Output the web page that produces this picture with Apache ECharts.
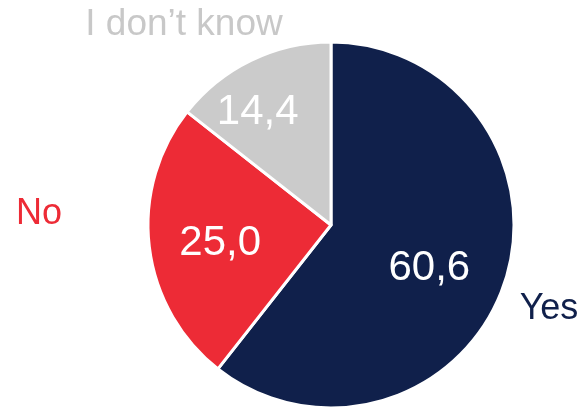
<!DOCTYPE html>
<html>
<head>
<meta charset="utf-8">
<script src="https://cdn.jsdelivr.net/npm/echarts@6/dist/echarts.min.js"></script>
<style>
  html, body { margin: 0; padding: 0; background: #fff; }
  #chart { width: 583px; height: 408px; }
</style>
</head>
<body>
<div id="chart"></div>
<script>
// Answer shares (percent)
const categories = ['Yes', 'No', 'I don\u2019t know'];
const values = [60.6, 25.0, 14.4];
const colors = ['#10204b', '#ed2b36', '#cbcbcb'];
const nameColors = ['#10204b', '#ed2b36', '#c8c8c8'];

// fine placement of the in-slice values and of the outer names
const valueOffsets = [[9, 13], [-17, 7], [-32, -28]];
const namePositions = [[549, 309], [39, 214], [184, 25]];

const fmt = v => v.toFixed(1).replace('.', ',');

const chart = echarts.init(document.getElementById('chart'), null, { renderer: 'canvas' });

const font = 'Liberation Sans, Arial, sans-serif';

chart.setOption({
  animation: false,
  series: [
    {
      type: 'pie',
      center: [331, 225],
      radius: [0, 183],
      startAngle: 90,
      clockwise: true,
      silent: true,
      itemStyle: { borderColor: '#fff', borderWidth: 3 },
      label: {
        show: true,
        position: 'inside',
        color: '#fff',
        fontFamily: font,
        fontSize: 42,
        formatter: p => fmt(p.value)
      },
      labelLine: { show: false },
      data: categories.map((c, i) => ({
        name: c,
        value: values[i],
        itemStyle: { color: colors[i] },
        label: { offset: valueOffsets[i] }
      }))
    },
    {
      type: 'pie',
      center: [331, 225],
      radius: [0, 183],
      startAngle: 90,
      clockwise: true,
      silent: true,
      z: 1,
      itemStyle: { color: 'rgba(0,0,0,0)', borderWidth: 0 },
      label: {
        show: true,
        position: 'inside',
        fontFamily: font,
        fontSize: 36,
        formatter: p => p.name
      },
      labelLine: { show: false },
      labelLayout: function (params) {
        const pos = namePositions[params.dataIndex];
        return { x: pos[0], y: pos[1], align: 'center', verticalAlign: 'middle' };
      },
      data: categories.map((c, i) => ({
        name: c,
        value: values[i],
        label: { color: nameColors[i], fontSize: i === 2 ? 37 : 36 }
      }))
    }
  ]
});
</script>
</body>
</html>
